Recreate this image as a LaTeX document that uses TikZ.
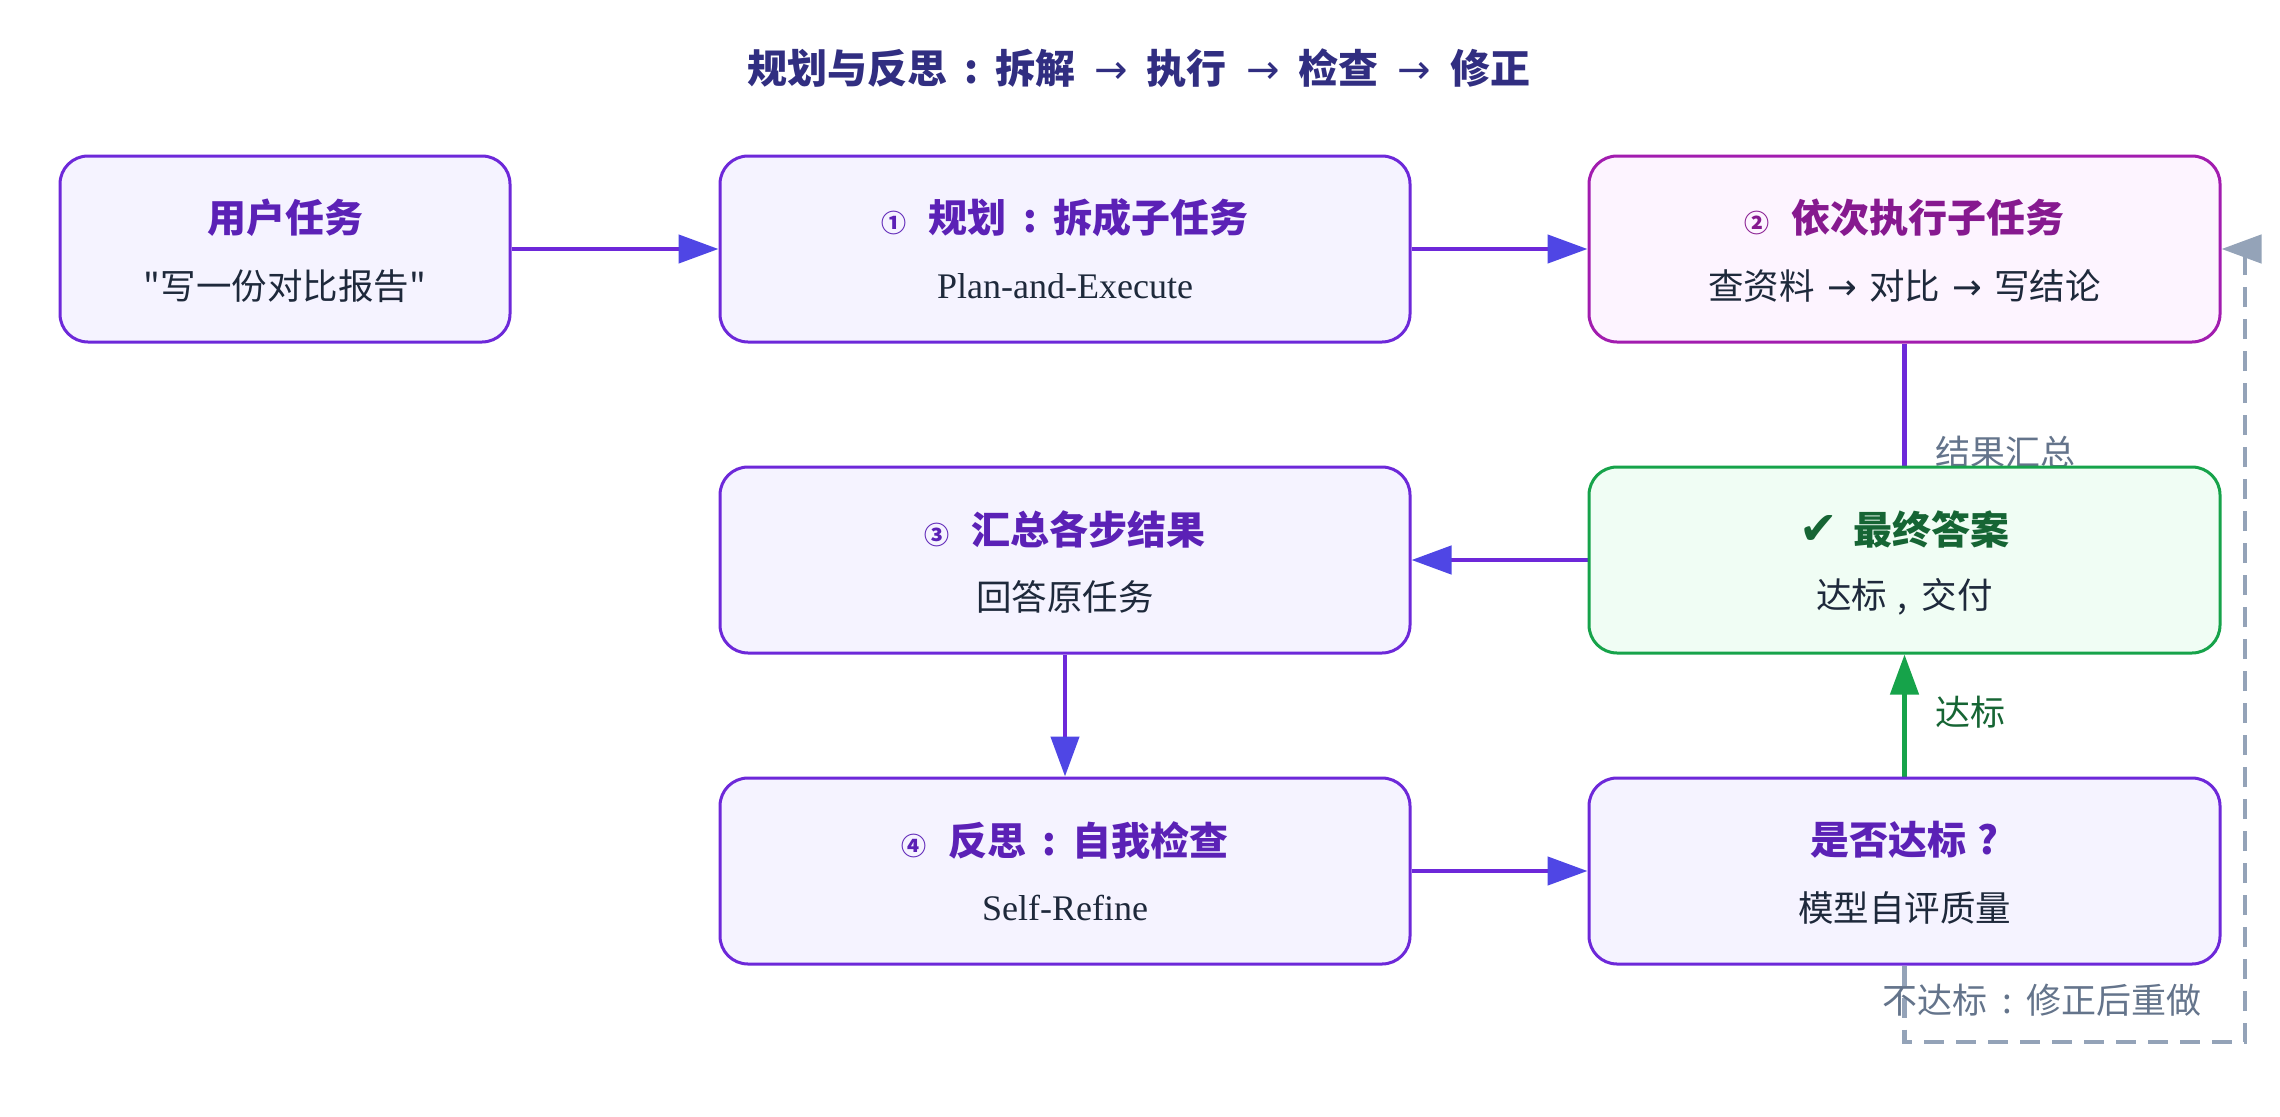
\documentclass[tikz,border=0pt]{standalone}
\usepackage{fontspec}
\setmainfont{Noto Sans CJK SC}
\newfontfamily\serifen{Liberation Serif}
\newfontfamily\dejavu{DejaVu Sans}
\newfontfamily\plainq{Noto Sans CJK SC}[Ligatures=ResetAll]
\usetikzlibrary{arrows.meta,calc}
\definecolor{boxfill}{HTML}{F5F3FF}
\definecolor{boxline}{HTML}{6D28D9}
\definecolor{boxtext}{HTML}{5B21B6}
\definecolor{exfill}{HTML}{FDF4FF}
\definecolor{exline}{HTML}{A21CAF}
\definecolor{extext}{HTML}{86198F}
\definecolor{okfill}{HTML}{F0FDF4}
\definecolor{okline}{HTML}{16A34A}
\definecolor{oktext}{HTML}{166534}
\definecolor{subtext}{HTML}{1E293B}
\definecolor{titlecol}{HTML}{312E81}
\definecolor{edgecol}{HTML}{6D28D9}
\definecolor{tipcol}{HTML}{4F46E5}
\definecolor{loopcol}{HTML}{94A3B8}
\definecolor{labelcol}{HTML}{64748B}
\pgfdeclarelayer{bg}
\pgfsetlayers{bg,main}
\tikzset{
  box/.style={draw=boxline, fill=boxfill, line width=3pt, rounded corners=28pt,
    minimum width=#1, minimum height=186pt, inner sep=0pt},
  ttl/.style={font=\fontsize{39}{44}\selectfont\bfseries, text=boxtext, inner sep=0pt},
  subt/.style={font=\fontsize{35.5}{40}\selectfont, text=subtext, inner sep=0pt},
  ensub/.style={font=\fontsize{36}{40}\serifen, text=subtext, inner sep=0pt},
  edge/.style={line width=4.5pt, draw=edgecol, -{Triangle[length=40pt,width=28pt,color=tipcol]}},
  okedge/.style={line width=4.5pt, draw=okline, -{Triangle[length=40pt,width=28pt,color=okline]}},
  loopedge/.style={line width=4.5pt, draw=loopcol, dash pattern=on 20pt off 12pt,
    -{Triangle[length=40pt,width=28pt,color=loopcol]}},
  elabel/.style={font=\fontsize{35}{40}\selectfont, text=labelcol, inner sep=0pt, anchor=west},
}
\newcommand{\circnum}[1]{{\fontsize{25}{25}\selectfont #1}\hspace{22pt}}
\newcommand{\wcolon}{\hspace{0.42em}:\hspace{0.42em}}
\newcommand{\arr}{\hspace{0.25em}{\dejavu\mdseries →}\hspace{0.25em}}
\newcommand{\sarr}{\hspace{0.12em}{\dejavu\mdseries →}\hspace{0.12em}}
\begin{document}
\begin{tikzpicture}[x=1pt,y=-1pt]
\useasboundingbox (0,0) rectangle (2280,1116);
\begin{pgfonlayer}{bg}
\fill[white] (0,0) rectangle (2280,1116);
\end{pgfonlayer}

\node[font=\fontsize{40}{46}\selectfont\bfseries, text=titlecol, inner sep=0pt] (title) at (1139,68)
  {规划与反思\wcolon 拆解 \arr{} 执行 \arr{} 检查 \arr{} 修正};

% boxes
\node[box=450] (user) at (285,249) {};
\node[box=690] (plan) at (1065,249) {};
\node[box=631, draw=exline, fill=exfill] (exec) at (1904.5,249) {};
\node[box=690] (summ) at (1065,560) {};
\node[box=631, draw=okline, fill=okfill] (final) at (1904.5,560) {};
\node[box=690] (refl) at (1065,871) {};
\node[box=631] (check) at (1904.5,871) {};

% texts
\node[ttl] (user-t) at ($(user)+(0,-31)$) {用户任务};
\node[subt] (user-s) at ($(user)+(0,37)$) {{\plainq "}写一份对比报告{\plainq "}};
\node[ttl] (plan-t) at ($(plan)+(0,-31)$) {\circnum{①}规划\wcolon 拆成子任务};
\node[ensub] (plan-s) at ($(plan)+(0,37)$) {Plan-and-Execute};
\node[ttl, text=extext] (exec-t) at ($(exec)+(0,-31)$) {\circnum{②}依次执行子任务};
\node[subt] (exec-s) at ($(exec)+(0,37)$) {查资料 \sarr{} 对比 \sarr{} 写结论};
\node[ttl] (summ-t) at ($(summ)+(0,-31)$) {\circnum{③}汇总各步结果};
\node[subt] (summ-s) at ($(summ)+(0,37)$) {回答原任务};
\node[ttl, text=oktext] (final-t) at ($(final)+(0,-31)$) {{\dejavu\fontsize{46}{46}\selectfont ✔}\hspace{16pt}最终答案};
\node[subt] (final-s) at ($(final)+(0,37)$) {达标\hspace{0.3em},\hspace{0.4em}交付};
\node[ttl] (refl-t) at ($(refl)+(0,-31)$) {\circnum{④}反思\wcolon 自我检查};
\node[ensub] (refl-s) at ($(refl)+(0,37)$) {Self-Refine};
\node[ttl] (check-t) at ($(check)+(0,-31)$) {是否达标\hspace{0.3em}?};
\node[subt] (check-s) at ($(check)+(0,37)$) {模型自评质量};

% edges
\coordinate (lpa) at (1904.5,1042);
\coordinate (lpb) at (2245,1042);
\begin{pgfonlayer}{bg}
\draw[edge] (user) -- (plan);
\draw[edge] (plan) -- (exec);
\draw[edge] (exec.south) |- (summ.east);
\node[elabel] (lab1) at (1935,452) {结果汇总};
\draw[edge] (summ) -- (refl);
\draw[edge] (refl) -- (check);
\draw[okedge] (check) -- (final);
\draw[loopedge] (check.south) -- (lpa) -- (lpb) |- (exec.east);
\end{pgfonlayer}
\node[elabel, text=oktext] (lab2) at (1935,712) {达标};
\node[elabel, anchor=center] (lab3) at (2042,1000) {不达标\wcolon 修正后重做};
\end{tikzpicture}
\end{document}
